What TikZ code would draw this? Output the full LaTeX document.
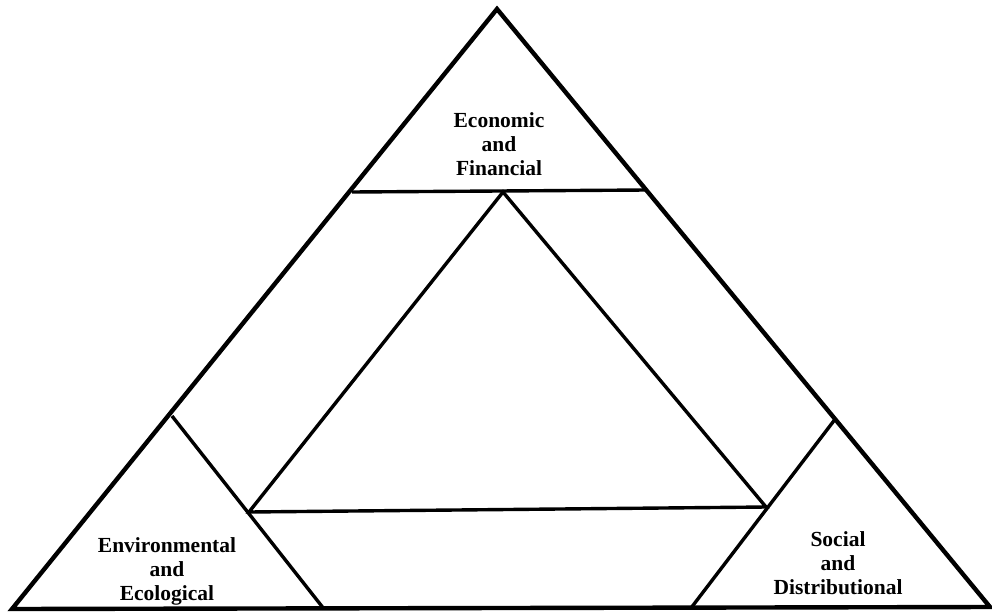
\documentclass[tikz,border=0pt]{standalone}
\usepackage{fontspec}
\setmainfont{Liberation Serif}
\begin{document}
\begin{tikzpicture}[x=1pt,y=-1pt,
  outer/.style={line width=4.4pt,line join=miter},
  inner/.style={line width=3.4pt,line join=miter},
  label/.style={align=center,font=\bfseries\fontsize{21.5}{24}\selectfont,inner sep=0pt}]
\useasboundingbox (0,0) rectangle (992,613);
% outer triangle
\coordinate (A) at (497,9);
\coordinate (L) at (12,609);
\coordinate (R) at (990,607);
% cut points on the outer sides
\coordinate (tl) at (352,192);
\coordinate (tr) at (646,190);
\coordinate (ll) at (172,416);
\coordinate (lb) at (324,609);
\coordinate (rr) at (836,418);
\coordinate (rb) at (691,608);
% inner triangle
\coordinate (ia) at (503,192);
\coordinate (il) at (249,512);
\coordinate (ir) at (766,507);
\draw[outer] (A) -- (L) -- (R) -- cycle;
\draw[inner] (tl) -- (tr);
\draw[inner] (ll) -- (lb);
\draw[inner] (rr) -- (rb);
\draw[inner] (ia) -- (il) -- (ir) -- cycle;
\node[label] (eco) at (499,144) {Economic\\and\\Financial};
\node[label] (env) at (167,571) {Environmental\\and\\Ecological};
\node[label] (soc) at (838,563) {Social\\and\\Distributional};
\end{tikzpicture}
\end{document}
